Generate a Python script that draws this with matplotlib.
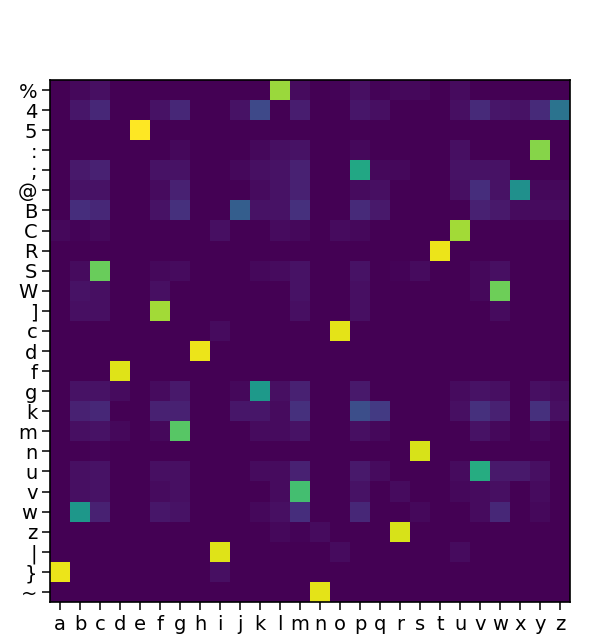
import numpy as np
import matplotlib
matplotlib.use("Agg")
import matplotlib.pyplot as plt

cols = list("abcdefghijklmnopqrstuvwxyz")
rows = ["%", "4", "5", ":", ";", "@", "B", "C", "R", "S", "W", "]", "c", "d",
        "f", "g", "k", "m", "n", "u", "v", "w", "z", "|", "}", "~"]

# strongest match per row: (column, value)
peaks = {
    "%": ("l", 0.85), "4": ("z", 0.38), "5": ("e", 1.0), ":": ("y", 0.82),
    ";": ("p", 0.60), "@": ("x", 0.50), "B": ("j", 0.30), "C": ("u", 0.86),
    "R": ("t", 0.97), "S": ("c", 0.77), "W": ("w", 0.78), "]": ("f", 0.86),
    "c": ("o", 0.96), "d": ("h", 0.97), "f": ("d", 0.95), "g": ("k", 0.54),
    "m": ("g", 0.74), "n": ("s", 0.94), "u": ("v", 0.62), "v": ("m", 0.70),
    "w": ("b", 0.53), "z": ("r", 0.94), "|": ("i", 0.95), "}": ("a", 0.97),
    "~": ("n", 0.96),
}

# faint background values
faint = {
    "%": {"b": 0.02, "c": 0.04, "m": 0.03, "o": 0.01, "p": 0.04, "q": 0.01, "r": 0.02, "s": 0.02, "u": 0.03},
    "4": {"b": 0.06, "c": 0.11, "f": 0.05, "g": 0.11, "j": 0.05, "k": 0.22, "m": 0.08,
          "p": 0.06, "q": 0.04, "u": 0.04, "v": 0.12, "w": 0.06, "x": 0.05, "y": 0.12},
    ":": {"g": 0.02, "k": 0.02, "l": 0.04, "m": 0.05, "p": 0.02, "u": 0.04},
    ";": {"b": 0.07, "c": 0.09, "f": 0.05, "g": 0.05, "j": 0.02, "k": 0.04, "l": 0.05, "m": 0.09,
          "q": 0.02, "r": 0.02, "u": 0.05, "v": 0.05, "w": 0.05},
    "@": {"b": 0.05, "c": 0.05, "f": 0.03, "g": 0.09, "k": 0.03, "l": 0.05, "m": 0.09,
          "p": 0.03, "q": 0.04, "u": 0.04, "v": 0.13, "w": 0.05, "y": 0.02, "z": 0.02},
    "B": {"b": 0.13, "c": 0.11, "f": 0.05, "g": 0.14, "k": 0.05, "l": 0.05, "m": 0.14,
          "p": 0.12, "q": 0.07, "v": 0.09, "w": 0.07, "x": 0.03, "y": 0.03, "z": 0.03},
    "C": {"a": 0.02, "b": 0.01, "c": 0.02, "i": 0.04, "l": 0.03, "m": 0.02, "o": 0.03, "p": 0.02},
    "S": {"b": 0.03, "f": 0.02, "g": 0.03, "k": 0.02, "l": 0.03, "m": 0.05, "p": 0.05,
          "r": 0.01, "s": 0.03, "v": 0.02, "w": 0.04},
    "W": {"b": 0.05, "c": 0.04, "f": 0.04, "m": 0.05, "p": 0.04, "v": 0.02},
    "]": {"b": 0.04, "c": 0.04, "m": 0.04, "p": 0.04, "w": 0.03},
    "c": {"i": 0.03},
    "g": {"b": 0.05, "c": 0.05, "d": 0.03, "f": 0.03, "g": 0.07, "j": 0.02, "l": 0.04, "m": 0.09,
          "p": 0.07, "u": 0.03, "v": 0.05, "w": 0.04, "y": 0.04, "z": 0.03},
    "k": {"b": 0.09, "c": 0.11, "f": 0.09, "g": 0.09, "j": 0.06, "k": 0.06, "l": 0.03, "m": 0.14,
          "p": 0.24, "q": 0.17, "u": 0.04, "v": 0.14, "w": 0.09, "y": 0.14, "z": 0.04},
    "m": {"b": 0.04, "c": 0.05, "d": 0.02, "f": 0.02, "k": 0.03, "l": 0.03, "m": 0.05,
          "p": 0.04, "q": 0.02, "v": 0.05, "w": 0.02, "y": 0.02},
    "n": {"c": 0.01},
    "u": {"b": 0.04, "c": 0.05, "f": 0.04, "g": 0.04, "k": 0.03, "l": 0.03, "m": 0.09,
          "p": 0.07, "q": 0.03, "u": 0.03, "w": 0.07, "x": 0.07, "y": 0.04},
    "v": {"b": 0.04, "c": 0.05, "f": 0.03, "g": 0.04, "l": 0.03, "p": 0.05, "r": 0.03,
          "u": 0.02, "v": 0.03, "w": 0.04, "y": 0.03},
    "w": {"c": 0.09, "f": 0.06, "g": 0.05, "k": 0.02, "l": 0.04, "m": 0.13, "p": 0.11,
          "s": 0.02, "v": 0.03, "w": 0.11, "y": 0.02},
    "z": {"l": 0.02, "m": 0.01, "n": 0.03},
    "|": {"o": 0.03, "u": 0.03},
    "}": {"i": 0.04},
}

mat = np.zeros((len(rows), len(cols)))
for r, (c, v) in peaks.items():
    mat[rows.index(r), cols.index(c)] = v
for r, d in faint.items():
    for c, v in d.items():
        mat[rows.index(r), cols.index(c)] = v

fig = plt.figure(figsize=(5.98, 6.36), dpi=100)
ax = fig.add_axes([50 / 598, 34 / 636, 520 / 598, 522 / 636])
ax.imshow(mat, cmap="viridis", vmin=0, vmax=1, aspect="auto")
ax.set_xticks(range(len(cols)))
ax.set_xticklabels(cols, fontsize=14)
ax.set_yticks(range(len(rows)))
ax.set_yticklabels(rows, fontsize=14)
ax.tick_params(length=5.5, width=1.1)
for s in ax.spines.values():
    s.set_linewidth(1.2)
fig.savefig("out.png", dpi=100)
